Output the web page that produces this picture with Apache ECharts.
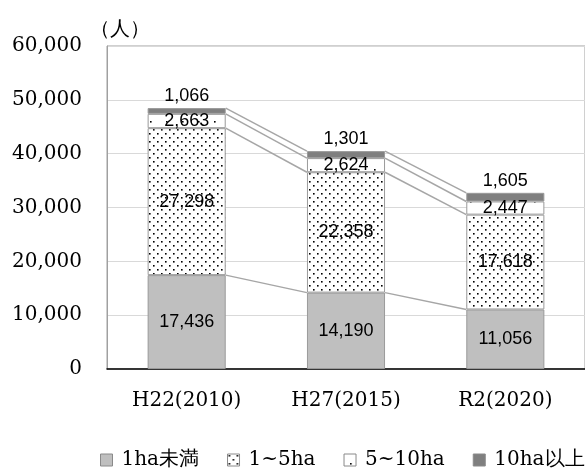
<!DOCTYPE html>
<html>
<head>
<meta charset="utf-8">
<script src="https://cdn.jsdelivr.net/npm/echarts@6/dist/echarts.min.js"></script>
<style>
  html, body { margin: 0; padding: 0; background: #ffffff; }
  #chart { width: 585px; height: 468px; }
</style>
</head>
<body>
<div id="chart"></div>
<script>
// Farm workers by cultivated-area class (people)
const categories = ['H22(2010)', 'H27(2015)', 'R2(2020)'];
const seriesNames = ['1ha未満', '1~5ha', '5~10ha', '10ha以上'];
const under1ha = [17436, 14190, 11056];
const from1to5ha = [27298, 22358, 17618];
const from5to10ha = [2663, 2624, 2447];
const over10ha = [1066, 1301, 1605];
const yTicks = [0, 10000, 20000, 30000, 40000, 50000, 60000];

const serif = "DejaVu Serif";
const sans = "Liberation Sans";

// Dot fill patterns for the two middle classes
function dotPattern(tile, dots, r) {
  const c = document.createElement('canvas');
  c.width = tile; c.height = tile;
  const ctx = c.getContext('2d');
  ctx.fillStyle = '#ffffff';
  ctx.fillRect(0, 0, tile, tile);
  ctx.fillStyle = '#000000';
  dots.forEach(function (d) { ctx.fillRect(d[0], d[1], r, r); });
  return { image: c, repeat: 'repeat' };
}
const densePattern = dotPattern(8, [[1, 1], [5, 5]], 1.6);
const sparsePattern = dotPattern(16, [[6, 9]], 1.6);

// Cumulative boundaries for the connector lines between bars
const layers = [under1ha, from1to5ha, from5to10ha, over10ha];
const cumulative = [];
let running = categories.map(function () { return 0; });
layers.forEach(function (arr) {
  running = running.map(function (v, i) { return v + arr[i]; });
  cumulative.push(running.slice());
});

const fmt = function (v) { return Number(v).toLocaleString('en-US'); };
const BAR_RATIO = 0.49;

function barSeries(name, data, color, labelPos) {
  return {
    name: name,
    type: 'bar',
    stack: 'total',
    barWidth: (BAR_RATIO * 100) + '%',
    data: data,
    z: 3,
    itemStyle: { color: color, borderColor: '#9a9a9a', borderWidth: 1 },
    label: {
      show: true,
      position: labelPos,
      distance: 3,
      color: '#000000',
      fontFamily: sans,
      fontSize: 18,
      textBorderWidth: 0,
      textBorderColor: 'transparent',
      formatter: function (p) { return fmt(p.value); }
    },
    emphasis: { disabled: true }
  };
}

const chart = echarts.init(document.getElementById('chart'), null, { renderer: 'canvas' });

chart.setOption({
  animation: false,
  backgroundColor: '#ffffff',
  title: {
    text: '（人）',
    left: 85,
    top: 15,
    textStyle: { fontFamily: serif, fontSize: 20, fontWeight: 'normal', color: '#000000' }
  },
  grid: {
    left: 107, top: 46, width: 486, bottom: 99,
    show: true, borderColor: '#a0a0a0', borderWidth: 1,
    containLabel: false
  },
  legend: {
    data: seriesNames,
    left: 100,
    top: 450,
    padding: 0,
    width: 700,
    itemWidth: 12,
    itemHeight: 12,
    itemGap: 28,
    icon: 'rect',
    formatter: function (name) { return '\u2009' + name; },
    textStyle: { fontFamily: serif, fontSize: 20, color: '#000000' },
    itemStyle: { borderColor: '#8a8a8a', borderWidth: 1 }
  },
  xAxis: {
    type: 'category',
    data: categories,
    axisLine: { lineStyle: { color: '#000000', width: 1.5 } },
    axisTick: { show: false },
    axisLabel: { fontFamily: serif, fontSize: 20, color: '#000000', margin: 22 },
    splitLine: { show: false }
  },
  yAxis: {
    type: 'value',
    min: yTicks[0],
    max: yTicks[yTicks.length - 1],
    interval: yTicks[1] - yTicks[0],
    axisLine: { show: true, lineStyle: { color: '#a0a0a0', width: 1 } },
    axisTick: { show: false },
    axisLabel: {
      fontFamily: serif, fontSize: 20, color: '#000000', margin: 25,
      formatter: function (v) { return fmt(v); }
    },
    splitLine: { lineStyle: { color: '#d9d9d9', width: 1 } }
  },
  series: [
    barSeries(seriesNames[0], under1ha, '#bfbfbf', 'inside'),
    barSeries(seriesNames[1], from1to5ha, densePattern, 'inside'),
    barSeries(seriesNames[2], from5to10ha, sparsePattern, 'inside'),
    barSeries(seriesNames[3], over10ha, '#7f7f7f', 'top'),
    {
      // connector lines joining the class boundaries of neighbouring bars
      type: 'custom',
      name: 'connectors',
      data: categories.slice(0, -1).map(function (c, i) { return [i]; }),
      encode: { x: 0 },
      z: 2,
      silent: true,
      renderItem: function (params, api) {
        const i = api.value(0);
        const half = api.size([1, 0])[0] * BAR_RATIO / 2;
        const children = cumulative.map(function (level) {
          const p1 = api.coord([i, level[i]]);
          const p2 = api.coord([i + 1, level[i + 1]]);
          return {
            type: 'line',
            shape: { x1: p1[0] + half, y1: p1[1], x2: p2[0] - half, y2: p2[1] },
            style: { stroke: '#a6a6a6', lineWidth: 1.5 }
          };
        });
        return { type: 'group', children: children };
      }
    }
  ]
});
</script>
</body>
</html>
